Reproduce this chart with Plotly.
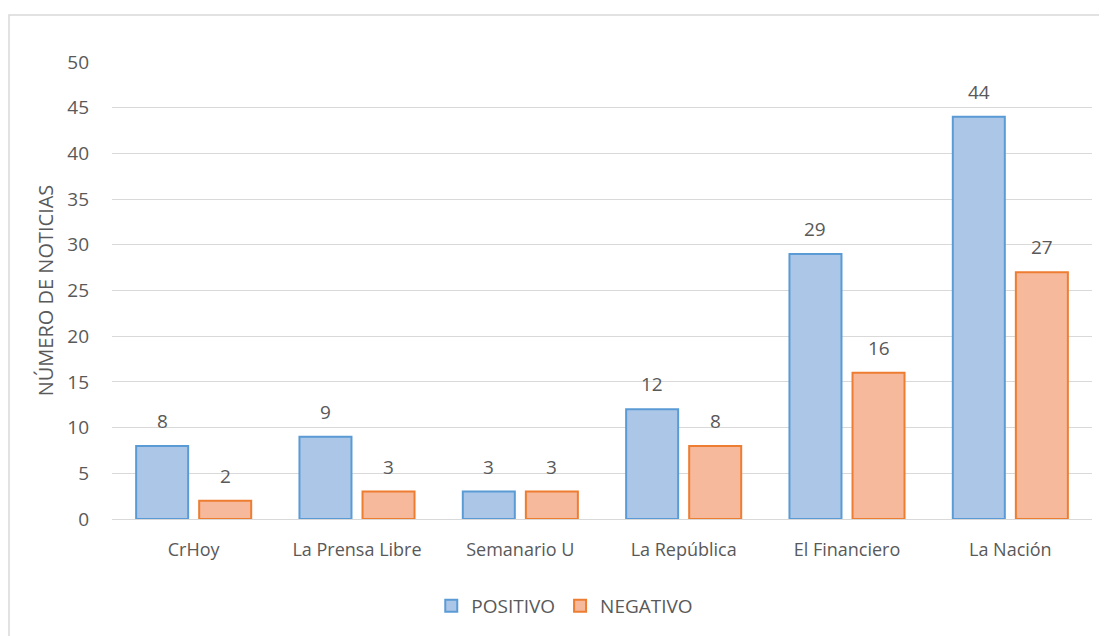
import plotly.graph_objects as go

categories = ["CrHoy", "La Prensa Libre", "Semanario U", "La República", "El Financiero", "La Nación"]
positivo = [8, 9, 3, 12, 29, 44]
negativo = [2, 3, 3, 8, 16, 27]
y_ticks = [0, 5, 10, 15, 20, 25, 30, 35, 40, 45, 50]

font_family = "Open Sans, Liberation Sans, sans-serif"
gray = "#595959"

# page body has an 8px margin -> figure occupies 1099x628 starting at (8,8)
W, H = 1099, 628
L, R, T, B = 104, 15, 54, 117
PW, PH = W - L - R, H - T - B

fig = go.Figure()
fig.add_trace(go.Bar(
    name="POSITIVO", x=categories, y=positivo,
    marker=dict(color="#abc6e7", line=dict(color="#5b9bd5", width=2)),
))
fig.add_trace(go.Bar(
    name="NEGATIVO", x=categories, y=negativo,
    marker=dict(color="#f6b99c", line=dict(color="#ed7d31", width=2)),
))

slot = PW / len(categories) * (1 - 0.228) / 2
for series, sign in ((positivo, -1), (negativo, 1)):
    for c, v in zip(categories, series):
        fig.add_annotation(x=c, y=v, text=str(v), showarrow=False,
                           xshift=sign * slot / 2, yshift=25, yanchor="middle",
                           font=dict(size=19, color=gray, family=font_family))

fig.update_layout(
    width=W, height=H,
    margin=dict(l=L, r=R, t=T, b=B, autoexpand=False),
    paper_bgcolor="white", plot_bgcolor="white",
    barmode="group", bargap=0.228, bargroupgap=0.175,
    font=dict(family=font_family, color=gray, size=17),
    showlegend=True,
    legend=dict(orientation="h", x=0.462, xanchor="center", y=(T + PH - 598) / PH, yanchor="middle",
                font=dict(size=19, color=gray), traceorder="normal", itemwidth=30),
)
fig.update_yaxes(
    range=[0, 50], tickvals=y_ticks, ticktext=[str(t) for t in y_ticks],
    showgrid=True, gridcolor="#d9d9d9", gridwidth=1,
    zeroline=False, showline=False, ticks="", ticklabelstandoff=22,
    tickfont=dict(size=19, color=gray),
    title=dict(text="NÚMERO DE NOTICIAS", font=dict(size=20, color=gray), standoff=8),
)
fig.update_xaxes(
    showline=True, linecolor="#d9d9d9", linewidth=1,
    showgrid=False, ticks="", ticklabelstandoff=14, tickfont=dict(size=18, color=gray),
)
fig.add_shape(type="rect", xref="paper", yref="paper",
              x0=(1 - L) / PW, x1=(W + 20 - L) / PW,
              y0=(T + PH - H - 20) / PH, y1=(T + PH - 7) / PH,
              line=dict(color="#d9d9d9", width=1.5), fillcolor="rgba(0,0,0,0)", layer="below")

fig.write_html("out.html")
